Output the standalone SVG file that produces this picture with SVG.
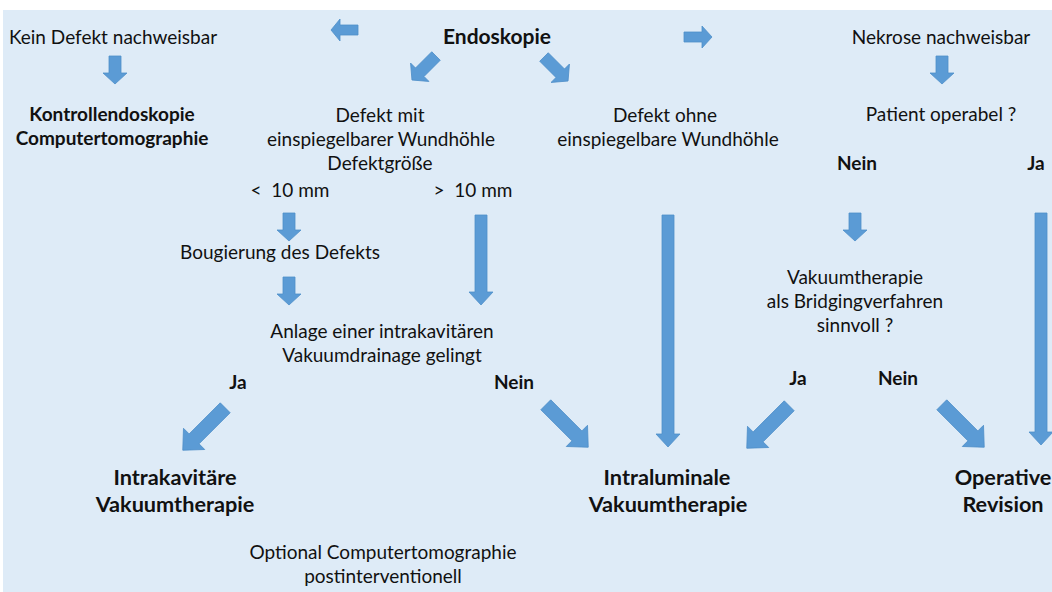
<svg xmlns="http://www.w3.org/2000/svg" width="1052" height="592" viewBox="0 0 1052 592">
<style>
.t{font-family:Lato,"Open Sans","Liberation Sans",sans-serif;font-size:19px;fill:#111111;text-anchor:middle}
.b{font-weight:bold}
.l{font-size:21.7px}
.a{fill:#5b9bd5;stroke:#4f8fc9;stroke-width:0.8}
</style>
<defs>
<polygon id="sd" points="-6,-14 6,-14 6,3 12,3 0,14 -12,3 -6,3"/>
<polygon id="dg" points="-7,-30 7,-30 7,14 15,14 0,30 -15,14 -7,14"/>
<polygon id="dm" points="-6,-17 6,-17 6,6 13,6 0,17 -13,6 -6,6"/>
</defs>
<rect x="0" y="0" width="1052" height="592" fill="#ffffff"/>
<rect x="3" y="10" width="1049" height="582" fill="#deebf7"/>
<g id="connectors">
<use href="#sd" class="a" transform="translate(115,70)"/>
<use href="#sd" class="a" transform="translate(942,70)"/>
<polygon class="a" points="358,25 340,25 340,19 331,30 340,41 340,35 358,35"/>
<polygon class="a" points="684,32 702,32 702,26 712,37 702,48 702,42 684,42"/>
<use href="#dm" class="a" transform="translate(424,68) rotate(45)"/>
<use href="#dm" class="a" transform="translate(556,69) rotate(-45)"/>
<use href="#sd" class="a" transform="translate(289,227)"/>
<use href="#sd" class="a" transform="translate(289,291)"/>
<use href="#sd" class="a" transform="translate(855,227)"/>
<polygon class="a" points="475,215 487,215 487,292 493,292 481,305 469,292 475,292"/>
<polygon class="a" points="662,215 674,215 674,434 680,434 668,447 656,434 662,434"/>
<polygon class="a" points="1035,213 1047,213 1047,432 1053,432 1041,445 1029,432 1035,432"/>
<use href="#dg" class="a" transform="translate(204,429) rotate(45)"/>
<use href="#dg" class="a" transform="translate(567,426) rotate(-45)"/>
<use href="#dg" class="a" transform="translate(768,427) rotate(45)"/>
<use href="#dg" class="a" transform="translate(963,426) rotate(-45)"/>
</g>
<g id="kein"><text class="t" x="113" y="44">Kein Defekt nachweisbar</text></g>
<g id="kontroll"><text class="t b" x="112" y="121">Kontrollendoskopie</text><text class="t b" x="112" y="145">Computertomographie</text></g>
<g id="endoskopie"><text class="t b" x="497" y="44" style="font-size:21px">Endoskopie</text></g>
<g id="nekrose"><text class="t" x="941" y="44">Nekrose nachweisbar</text></g>
<g id="defektmit"><text class="t" x="380" y="122">Defekt mit</text><text class="t" x="381" y="146">einspiegelbarer Wundhöhle</text><text class="t" x="380" y="170">Defektgröße</text></g>
<g id="defektohne"><text class="t" x="665" y="122">Defekt ohne</text><text class="t" x="668" y="146">einspiegelbare Wundhöhle</text></g>
<g id="patient"><text class="t" x="941" y="121">Patient operabel ?</text></g>
<g id="nein1"><text class="t b" x="857" y="170">Nein</text></g>
<g id="ja1"><text class="t b" x="1036" y="170">Ja</text></g>
<g id="lt10"><text class="t" x="290" y="197">&lt;&#160; 10 mm</text></g>
<g id="gt10"><text class="t" x="473" y="197">&gt;&#160; 10 mm</text></g>
<g id="bougierung"><text class="t" x="280" y="259">Bougierung des Defekts</text></g>
<g id="anlage"><text class="t" x="382" y="338">Anlage einer intrakavitären</text><text class="t" x="382" y="362">Vakuumdrainage gelingt</text></g>
<g id="ja2"><text class="t b" x="238" y="389">Ja</text></g>
<g id="nein2"><text class="t b" x="514" y="389">Nein</text></g>
<g id="bridging"><text class="t" x="855" y="284">Vakuumtherapie</text><text class="t" x="855" y="308">als Bridgingverfahren</text><text class="t" x="855" y="332">sinnvoll ?</text></g>
<g id="ja3"><text class="t b" x="798" y="385">Ja</text></g>
<g id="nein3"><text class="t b" x="898" y="385">Nein</text></g>
<g id="intrakavitaer"><text class="t b l" x="175" y="485">Intrakavitäre</text><text class="t b l" x="175" y="512">Vakuumtherapie</text></g>
<g id="intraluminal"><text class="t b l" x="667" y="485">Intraluminale</text><text class="t b l" x="668" y="512">Vakuumtherapie</text></g>
<g id="operativ"><text class="t b l" x="1003" y="485">Operative</text><text class="t b l" x="1003" y="512">Revision</text></g>
<g id="optional"><text class="t" x="383" y="559">Optional Computertomographie</text><text class="t" x="383" y="583">postinterventionell</text></g>
</svg>
